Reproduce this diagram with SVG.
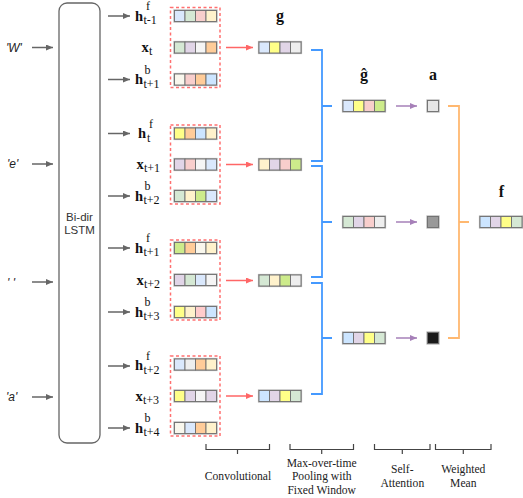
<svg xmlns="http://www.w3.org/2000/svg" width="523" height="498" viewBox="0 0 523 498">
<style>
.bg{fill:#fff}
.lstm{fill:none;stroke:#666;stroke-width:1.3}
.win{fill:none;stroke:#ff7070;stroke-width:1.5;stroke-dasharray:3 2.5}
.halo{fill:none;stroke:#b0b0b0;stroke-width:2.2}
.c{stroke:#6e6e6e;stroke-width:0.9}
.ga{stroke:#666;stroke-width:1.5;fill:none}
.ra{stroke:#ff6666;stroke-width:1.5;fill:none}
.pa{stroke:#a680b8;stroke-width:1.5;fill:none}
.bl{stroke:#4499ff;stroke-width:1.8;fill:none}
.or{stroke:#ffb870;stroke-width:1.8;fill:none}
.br{stroke:#444;stroke-width:1.2;fill:none}
.hl{font-family:"Liberation Serif",serif;font-weight:bold;font-size:14.5px;fill:#111}
.ss{font-family:"Liberation Serif",serif;font-size:12px;fill:#111}
.big{font-family:"Liberation Serif",serif;font-weight:bold;font-size:16px;fill:#111;text-anchor:middle}
.inp{font-family:"Liberation Sans",sans-serif;font-style:italic;font-size:12px;fill:#222}
.sans{font-family:"Liberation Sans",sans-serif;font-size:11.5px;fill:#333;text-anchor:middle}
.cap{font-family:"Liberation Serif",serif;font-size:11.6px;fill:#222;text-anchor:middle}
</style>
<defs>
<marker id="mg" markerUnits="userSpaceOnUse" markerWidth="8" markerHeight="7" refX="7" refY="3" orient="auto"><path d="M0,0 L7,3 L0,6 z" fill="#666"/></marker>
<marker id="mr" markerUnits="userSpaceOnUse" markerWidth="8" markerHeight="7" refX="7" refY="3" orient="auto"><path d="M0,0 L7,3 L0,6 z" fill="#ff6666"/></marker>
<marker id="mp" markerUnits="userSpaceOnUse" markerWidth="8" markerHeight="7" refX="7" refY="3" orient="auto"><path d="M0,0 L7,3 L0,6 z" fill="#a680b8"/></marker>
</defs>
<rect class="bg" x="0" y="0" width="523" height="498"/>

<g id="inputs">
<text class="inp" x="6" y="52">'W'</text>
<text class="inp" x="7" y="168">'e'</text>
<text class="inp" x="7" y="287">' '</text>
<text class="inp" x="6" y="401">'a'</text>
</g>

<g id="lstm">
<rect class="lstm" x="59" y="3" width="41" height="440" rx="8"/>
<text class="sans" x="79.5" y="221">Bi-dir</text>
<text class="sans" x="79.5" y="234">LSTM</text>
</g>

<g id="connectors">
<path class="ga" marker-end="url(#mg)" d="M32,47.5 H53"/>
<path class="ga" marker-end="url(#mg)" d="M32,164 H53"/>
<path class="ga" marker-end="url(#mg)" d="M32,282 H53"/>
<path class="ga" marker-end="url(#mg)" d="M32,397 H53"/>
<path class="ga" marker-end="url(#mg)" d="M108,16 H130"/>
<path class="ga" marker-end="url(#mg)" d="M108,79.5 H130"/>
<path class="ga" marker-end="url(#mg)" d="M108,133.5 H130"/>
<path class="ga" marker-end="url(#mg)" d="M108,196 H130"/>
<path class="ga" marker-end="url(#mg)" d="M108,248 H130"/>
<path class="ga" marker-end="url(#mg)" d="M108,312 H130"/>
<path class="ga" marker-end="url(#mg)" d="M108,366 H130"/>
<path class="ga" marker-end="url(#mg)" d="M108,428 H130"/>
<path class="ra" marker-end="url(#mr)" d="M226,47.5 H253"/>
<path class="ra" marker-end="url(#mr)" d="M226,164.5 H253"/>
<path class="ra" marker-end="url(#mr)" d="M226,280.5 H253"/>
<path class="ra" marker-end="url(#mr)" d="M226,396 H253"/>
<path class="bl" d="M311,50 H322 V161 H311 M322,106 H332"/>
<path class="bl" d="M311,166 H322 V277 H311 M322,222 H332"/>
<path class="bl" d="M311,283 H322 V394 H311 M322,338 H332"/>
<path class="pa" marker-end="url(#mp)" d="M396,106 H417"/>
<path class="pa" marker-end="url(#mp)" d="M396,222 H417"/>
<path class="pa" marker-end="url(#mp)" d="M396,338 H417"/>
<path class="or" d="M448,106 H459 V338 H448 M459,222 H469"/>
</g>

<g id="row-labels">
<text class="hl" x="135" y="20.5">h</text><text class="ss" x="146" y="10">f</text><text class="ss" x="143.5" y="24">t-1</text>
<text class="hl" x="141.5" y="52">x</text><text class="ss" x="149" y="55">t</text>
<text class="hl" x="135" y="84">h</text><text class="ss" x="144.5" y="73.5">b</text><text class="ss" x="143.5" y="87.5">t+1</text>

<text class="hl" x="138" y="138">h</text><text class="ss" x="149" y="127.5">f</text><text class="ss" x="147" y="141.5">t</text>
<text class="hl" x="136.5" y="169">x</text><text class="ss" x="144" y="172">t+1</text>
<text class="hl" x="135" y="200.5">h</text><text class="ss" x="144.5" y="190">b</text><text class="ss" x="143.5" y="204">t+2</text>

<text class="hl" x="135" y="252.5">h</text><text class="ss" x="146" y="242">f</text><text class="ss" x="143.5" y="256">t+1</text>
<text class="hl" x="136.5" y="284.5">x</text><text class="ss" x="144" y="287.5">t+2</text>
<text class="hl" x="135" y="316.5">h</text><text class="ss" x="144.5" y="306">b</text><text class="ss" x="143.5" y="320">t+3</text>

<text class="hl" x="135" y="370">h</text><text class="ss" x="146" y="360">f</text><text class="ss" x="143.5" y="373.5">t+2</text>
<text class="hl" x="135.5" y="400.5">x</text><text class="ss" x="143" y="404">t+3</text>
<text class="hl" x="135" y="432.5">h</text><text class="ss" x="144.5" y="422">b</text><text class="ss" x="143.5" y="436">t+4</text>
</g>

<g id="windows">
<rect class="win" x="170.5" y="7.5" width="49.5" height="80"/>
<rect class="win" x="170.5" y="125" width="49.5" height="79"/>
<rect class="win" x="170.5" y="240" width="49.5" height="80"/>
<rect class="win" x="170.5" y="356" width="49.5" height="80"/>
</g>

<g id="r1hf" transform="translate(174.5,10.5)"><rect class="halo" width="42" height="11"/><rect class="c" x="0" width="10.5" height="11" fill="#dae8fc"/><rect class="c" x="10.5" width="10.5" height="11" fill="#d5e8d4"/><rect class="c" x="21" width="10.5" height="11" fill="#f8cecc"/><rect class="c" x="31.5" width="10.5" height="11" fill="#fff2cc"/></g>
<g id="r1x" transform="translate(174.5,42)"><rect class="halo" width="42" height="11"/><rect class="c" x="0" width="10.5" height="11" fill="#d5e8d4"/><rect class="c" x="10.5" width="10.5" height="11" fill="#e1d5e7"/><rect class="c" x="21" width="10.5" height="11" fill="#f5f5f5"/><rect class="c" x="31.5" width="10.5" height="11" fill="#ffcc99"/></g>
<g id="r1hb" transform="translate(174.5,74)"><rect class="halo" width="42" height="11"/><rect class="c" x="0" width="10.5" height="11" fill="#f9f7ed"/><rect class="c" x="10.5" width="10.5" height="11" fill="#f8cecc"/><rect class="c" x="21" width="10.5" height="11" fill="#ffcc99"/><rect class="c" x="31.5" width="10.5" height="11" fill="#cce5ff"/></g>

<g id="r2hf" transform="translate(174.5,128)"><rect class="halo" width="42" height="11"/><rect class="c" x="0" width="10.5" height="11" fill="#ffff88"/><rect class="c" x="10.5" width="10.5" height="11" fill="#ffcc99"/><rect class="c" x="21" width="10.5" height="11" fill="#cce5ff"/><rect class="c" x="31.5" width="10.5" height="11" fill="#fff2cc"/></g>
<g id="r2x" transform="translate(174.5,159)"><rect class="halo" width="42" height="11"/><rect class="c" x="0" width="10.5" height="11" fill="#e1d5e7"/><rect class="c" x="10.5" width="10.5" height="11" fill="#f8cecc"/><rect class="c" x="21" width="10.5" height="11" fill="#f5f5f5"/><rect class="c" x="31.5" width="10.5" height="11" fill="#dae8fc"/></g>
<g id="r2hb" transform="translate(174.5,190.5)"><rect class="halo" width="42" height="11"/><rect class="c" x="0" width="10.5" height="11" fill="#d5e8d4"/><rect class="c" x="10.5" width="10.5" height="11" fill="#fff2cc"/><rect class="c" x="21" width="10.5" height="11" fill="#cdeb8b"/><rect class="c" x="31.5" width="10.5" height="11" fill="#dae8fc"/></g>

<g id="r3hf" transform="translate(174.5,242.5)"><rect class="halo" width="42" height="11"/><rect class="c" x="0" width="10.5" height="11" fill="#cdeb8b"/><rect class="c" x="10.5" width="10.5" height="11" fill="#ffcc99"/><rect class="c" x="21" width="10.5" height="11" fill="#f9f7ed"/><rect class="c" x="31.5" width="10.5" height="11" fill="#fff2cc"/></g>
<g id="r3x" transform="translate(174.5,274.5)"><rect class="halo" width="42" height="11"/><rect class="c" x="0" width="10.5" height="11" fill="#e1d5e7"/><rect class="c" x="10.5" width="10.5" height="11" fill="#d5e8d4"/><rect class="c" x="21" width="10.5" height="11" fill="#dae8fc"/><rect class="c" x="31.5" width="10.5" height="11" fill="#f5f5f5"/></g>
<g id="r3hb" transform="translate(174.5,306.5)"><rect class="halo" width="42" height="11"/><rect class="c" x="0" width="10.5" height="11" fill="#ffff88"/><rect class="c" x="10.5" width="10.5" height="11" fill="#fff2cc"/><rect class="c" x="21" width="10.5" height="11" fill="#ffcccc"/><rect class="c" x="31.5" width="10.5" height="11" fill="#cce5ff"/></g>

<g id="r4hf" transform="translate(174.5,359)"><rect class="halo" width="42" height="11"/><rect class="c" x="0" width="10.5" height="11" fill="#dae8fc"/><rect class="c" x="10.5" width="10.5" height="11" fill="#eeeeee"/><rect class="c" x="21" width="10.5" height="11" fill="#ffcc99"/><rect class="c" x="31.5" width="10.5" height="11" fill="#fff2cc"/></g>
<g id="r4x" transform="translate(174.5,390.5)"><rect class="halo" width="42" height="11"/><rect class="c" x="0" width="10.5" height="11" fill="#ffff88"/><rect class="c" x="10.5" width="10.5" height="11" fill="#e1d5e7"/><rect class="c" x="21" width="10.5" height="11" fill="#f5f5f5"/><rect class="c" x="31.5" width="10.5" height="11" fill="#e1d5e7"/></g>
<g id="r4hb" transform="translate(174.5,422.5)"><rect class="halo" width="42" height="11"/><rect class="c" x="0" width="10.5" height="11" fill="#f9f7ed"/><rect class="c" x="10.5" width="10.5" height="11" fill="#dae8fc"/><rect class="c" x="21" width="10.5" height="11" fill="#ffcc99"/><rect class="c" x="31.5" width="10.5" height="11" fill="#fff2cc"/></g>

<g id="g-label"><text class="big" x="280" y="21">g</text></g>
<g id="g1" transform="translate(259,42)"><rect class="halo" width="42" height="11"/><rect class="c" x="0" width="10.5" height="11" fill="#dae8fc"/><rect class="c" x="10.5" width="10.5" height="11" fill="#ffff88"/><rect class="c" x="21" width="10.5" height="11" fill="#e1d5e7"/><rect class="c" x="31.5" width="10.5" height="11" fill="#eeeeee"/></g>
<g id="g2" transform="translate(259,159)"><rect class="halo" width="42" height="11"/><rect class="c" x="0" width="10.5" height="11" fill="#fff2cc"/><rect class="c" x="10.5" width="10.5" height="11" fill="#e1d5e7"/><rect class="c" x="21" width="10.5" height="11" fill="#f8cecc"/><rect class="c" x="31.5" width="10.5" height="11" fill="#cdeb8b"/></g>
<g id="g3" transform="translate(259,275)"><rect class="halo" width="42" height="11"/><rect class="c" x="0" width="10.5" height="11" fill="#d5e8d4"/><rect class="c" x="10.5" width="10.5" height="11" fill="#fff2cc"/><rect class="c" x="21" width="10.5" height="11" fill="#cdeb8b"/><rect class="c" x="31.5" width="10.5" height="11" fill="#eeeeee"/></g>
<g id="g4" transform="translate(259,390.5)"><rect class="halo" width="42" height="11"/><rect class="c" x="0" width="10.5" height="11" fill="#cce5ff"/><rect class="c" x="10.5" width="10.5" height="11" fill="#e1d5e7"/><rect class="c" x="21" width="10.5" height="11" fill="#ffff88"/><rect class="c" x="31.5" width="10.5" height="11" fill="#d5e8d4"/></g>

<g id="ghat-label"><text class="big" x="364" y="80">ĝ</text></g>
<g id="gh1" transform="translate(343,100.5)"><rect class="halo" width="42" height="11"/><rect class="c" x="0" width="10.5" height="11" fill="#dae8fc"/><rect class="c" x="10.5" width="10.5" height="11" fill="#ffff88"/><rect class="c" x="21" width="10.5" height="11" fill="#f8cecc"/><rect class="c" x="31.5" width="10.5" height="11" fill="#cdeb8b"/></g>
<g id="gh2" transform="translate(343,216.5)"><rect class="halo" width="42" height="11"/><rect class="c" x="0" width="10.5" height="11" fill="#d5e8d4"/><rect class="c" x="10.5" width="10.5" height="11" fill="#e1d5e7"/><rect class="c" x="21" width="10.5" height="11" fill="#f8cecc"/><rect class="c" x="31.5" width="10.5" height="11" fill="#eeeeee"/></g>
<g id="gh3" transform="translate(343,332.5)"><rect class="halo" width="42" height="11"/><rect class="c" x="0" width="10.5" height="11" fill="#cce5ff"/><rect class="c" x="10.5" width="10.5" height="11" fill="#e1d5e7"/><rect class="c" x="21" width="10.5" height="11" fill="#ffff88"/><rect class="c" x="31.5" width="10.5" height="11" fill="#d5e8d4"/></g>

<g id="a-label"><text class="big" x="433" y="80">a</text></g>
<g id="a1"><rect class="halo" x="427.5" y="100.5" width="11" height="11"/><rect class="c" x="427.5" y="100.5" width="11" height="11" fill="#e6e6e6"/></g>
<g id="a2"><rect class="halo" x="427.5" y="216.5" width="11" height="11"/><rect class="c" x="427.5" y="216.5" width="11" height="11" fill="#999999"/></g>
<g id="a3"><rect class="halo" x="427.5" y="332.5" width="11" height="11"/><rect class="c" x="427.5" y="332.5" width="11" height="11" fill="#1a1a1a"/></g>

<g id="f-label"><text class="big" x="501.5" y="197">f</text></g>
<g id="f" transform="translate(480,216.5)"><rect class="halo" width="42" height="11"/><rect class="c" x="0" width="10.5" height="11" fill="#cce5ff"/><rect class="c" x="10.5" width="10.5" height="11" fill="#e1d5e7"/><rect class="c" x="21" width="10.5" height="11" fill="#ffff88"/><rect class="c" x="31.5" width="10.5" height="11" fill="#d5e8d4"/></g>

<g id="stage-brackets">
<path class="br" d="M206,444 V449.5 H269.5 V444 M237.5,449.5 V454"/>
<path class="br" d="M290,444 V449.5 H353.5 V444 M321.7,449.5 V454"/>
<path class="br" d="M374.5,444 V449.5 H430 V444 M402.3,449.5 V454"/>
<path class="br" d="M435.5,444 V449.5 H491 V444 M463.3,449.5 V454"/>
<text class="cap" x="238" y="480">Convolutional</text>
<text class="cap" x="321.7" y="466.5">Max-over-time</text>
<text class="cap" x="321.7" y="480">Pooling with</text>
<text class="cap" x="321.7" y="494">Fixed Window</text>
<text class="cap" x="402.3" y="473">Self-</text>
<text class="cap" x="402.3" y="487">Attention</text>
<text class="cap" x="463.3" y="473">Weighted</text>
<text class="cap" x="463.3" y="487">Mean</text>
</g>
</svg>
